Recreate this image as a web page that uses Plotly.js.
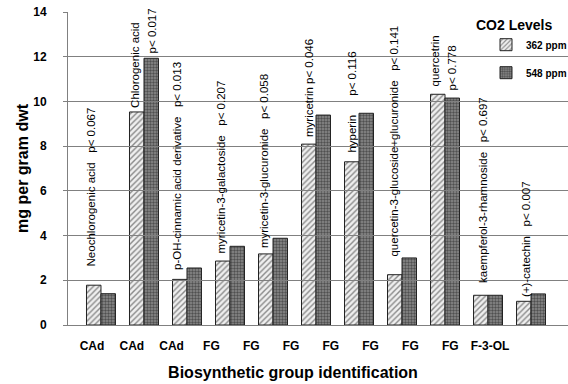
<!DOCTYPE html>
<html>
<head>
<meta charset="utf-8">
<script src="https://cdn.plot.ly/plotly-3.0.1.min.js"></script>
<style>html,body{margin:0;padding:0;background:#fff;}#chart{width:568px;height:384px;}</style>
</head>
<body>
<div id="chart"></div>
<script>
const compounds = ['Neochlorogenic acid', 'Chlorogenic acid', 'p-OH-cinnamic acid derivative', 'myricetin-3-galactoside', 'myricetin-3-glucuronide', 'myricetrin', 'hyperin', 'quercetin-3-glucoside+glucuronide', 'quercetrin', 'kaempferol-3-rhamnoside', '(+)-catechin'];
const groups = ['CAd', 'CAd', 'CAd', 'FG', 'FG', 'FG', 'FG', 'FG', 'FG', 'FG', 'F-3-OL'];
const ppm362 = [1.78, 9.53, 2.04, 2.86, 3.18, 8.09, 7.30, 2.25, 10.32, 1.33, 1.06];
const ppm548 = [1.40, 11.93, 2.55, 3.52, 3.88, 9.39, 9.47, 3.00, 10.15, 1.33, 1.39];
const pValues = ['p< 0.067', 'p< 0.017', 'p< 0.013', 'p< 0.207', 'p< 0.058', 'p< 0.046', 'p< 0.116', 'p< 0.141', 'p< 0.778', 'p< 0.697', 'p< 0.007'];
const seriesNames = ['362 ppm', '548 ppm'];

// label layout (not data): separator (null = p value on its own rotated line), label base, shifts
const sep = ['\u00a0\u00a0\u00a0', null, '\u00a0\u00a0\u00a0', '\u00a0\u00a0\u00a0', '\u00a0\u00a0\u00a0', ' ', '\u00a0\u00a0\u00a0\u00a0\u00a0\u00a0', '\u00a0\u00a0\u00a0', null, '\u00a0\u00a0\u00a0', '\u00a0\u00a0\u00a0'];
const labelBase = [2.55, 9.62, 2.37, 3.13, 3.35, 8.32, 7.60, 2.95, 10.56, 1.79, 1.16];
const labelShift = [-9, -9, -10, -9, -9, -7, -7, -8, -10, -5, -5];
const pBase = [null, 12.08, null, null, null, null, null, null, 10.38, null, null];
const pShift = [0, 8, 0, 0, 0, 0, 0, 0, 7, 0, 0];

const FONT = 'Liberation Sans, Arial, sans-serif';

const traces = [
  {
    type: 'bar', name: seriesNames[0], x: compounds, y: ppm362, legendgroup: 'a',
    marker: {color: '#ececec', line: {color: '#222', width: 1},
      pattern: {shape: '/', fgcolor: '#8a8a8a', bgcolor: '#efefef', size: 4, solidity: 0.35}},
    hoverinfo: 'skip'
  },
  {
    type: 'bar', name: seriesNames[1], x: compounds, y: ppm548, legendgroup: 'b',
    marker: {color: '#777777', line: {color: '#222', width: 1},
      pattern: {shape: '.', fgcolor: '#505050', bgcolor: '#8c8c8c', size: 3, solidity: 0.5}},
    hoverinfo: 'skip'
  },
  {
    type: 'scatter', mode: 'markers', x: groups.map((g, i) => i), y: groups.map(() => null),
    xaxis: 'x2', yaxis: 'y', showlegend: false, hoverinfo: 'skip'
  }
];

const labelFont = {family: FONT, size: 11.5, color: '#000'};
const annotations = [];
compounds.forEach((c, i) => {
  annotations.push({
    x: c, xref: 'x', y: labelBase[i], yref: 'y',
    text: sep[i] === null ? c : c + sep[i] + pValues[i],
    textangle: -90, showarrow: false, xanchor: 'center', yanchor: 'bottom',
    xshift: labelShift[i], font: labelFont
  });
  if (sep[i] === null) {
    annotations.push({
      x: c, xref: 'x', y: pBase[i], yref: 'y', text: pValues[i],
      textangle: -90, showarrow: false, xanchor: 'center', yanchor: 'bottom',
      xshift: pShift[i], font: labelFont
    });
  }
});

const layout = {
  width: 568, height: 384,
  margin: {l: 68, r: 0, t: 12, b: 59, autoexpand: false},
  paper_bgcolor: '#fff', plot_bgcolor: 'rgba(0,0,0,0)',
  font: {family: FONT, color: '#000'},
  barmode: 'group', bargap: 0.326, bargroupgap: 0,
  showlegend: true,
  legend: {
    x: 0.812, y: 1.0, xanchor: 'left', yanchor: 'top',
    bgcolor: 'rgba(0,0,0,0)', borderwidth: 0,
    traceorder: 'grouped', tracegroupgap: 9, indentation: 12,
    title: {text: 'CO2 Levels', font: {family: FONT, size: 14, weight: 'bold'}},
    font: {family: FONT, size: 10, weight: 'bold'}
  },
  xaxis: {
    type: 'category', range: [-0.767, 10.86], domain: [0, 1],
    showticklabels: false, showgrid: false, zeroline: false,
    showline: true, linecolor: '#808080', linewidth: 1, ticks: ''
  },
  xaxis2: {
    anchor: 'y', domain: [0, 0.9], range: [-0.603, 10.703],
    tickvals: groups.map((g, i) => i), ticktext: groups,
    tickfont: {family: FONT, size: 12, weight: 'bold'},
    showgrid: false, zeroline: false, showline: false, ticks: '', ticklabelstandoff: 12,
    title: {text: 'Biosynthetic group identification', font: {family: FONT, size: 16, weight: 'bold'}, standoff: 14}
  },
  yaxis: {
    range: [0, 14], dtick: 2, tick0: 0,
    showgrid: true, gridcolor: '#808080', gridwidth: 1, zeroline: false,
    showline: true, linecolor: '#808080', linewidth: 1,
    ticks: 'outside', ticklen: 4, tickcolor: '#808080', ticklabelstandoff: 14,
    tickfont: {family: FONT, size: 12, weight: 'bold'},
    title: {text: 'mg per gram dwt', font: {family: FONT, size: 16, weight: 'bold'}, standoff: 0}
  },
  annotations: annotations
};

Plotly.newPlot('chart', traces, layout, {displayModeBar: false, staticPlot: true});
</script>
</body>
</html>
